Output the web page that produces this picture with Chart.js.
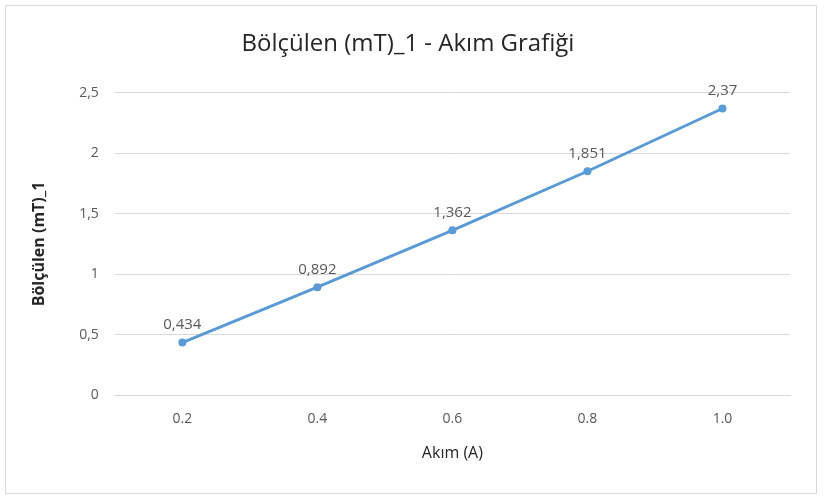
<!DOCTYPE html>
<html><head><meta charset="utf-8">
<script src="https://cdn.jsdelivr.net/npm/chart.js@4"></script>
<style>
html,body{margin:0;padding:0;background:#fff;}
#wrap{position:absolute;left:5px;top:5px;width:812px;height:489px;border:1px solid #d9d9d9;box-sizing:border-box;}
</style></head><body>
<div id="wrap"><canvas id="c"></canvas></div>
<script>
// values
const currents = ['0.2', '0.4', '0.6', '0.8', '1.0'];
const fieldValues = [0.434, 0.892, 1.362, 1.851, 2.37];
const yTicks = [0, 0.5, 1, 1.5, 2, 2.5];

const fmt = v => String(v).replace('.', ',');
const textColor = '#595959';
const font = { family: '"Open Sans", "Liberation Sans", sans-serif', size: 14 };

const pointLabels = {
    id: 'pointLabels',
    afterDatasetsDraw(chart) {
        const ctx = chart.ctx;
        const meta = chart.getDatasetMeta(0);
        ctx.save();
        ctx.fillStyle = textColor;
        ctx.font = '15px ' + font.family;
        ctx.textAlign = 'center';
        ctx.textBaseline = 'bottom';
        meta.data.forEach((p, i) => ctx.fillText(fmt(fieldValues[i]), p.x, p.y - 10));
        ctx.restore();
    }
};

new Chart(document.getElementById('c'), {
    type: 'line',
    data: {
        labels: currents,
        datasets: [{
            data: fieldValues,
            borderColor: '#5b9bd5',
            backgroundColor: '#5b9bd5',
            borderWidth: 3,
            pointRadius: 4,
            pointBorderWidth: 0,
            tension: 0,
        }],
    },
    options: {
        responsive: true,
        maintainAspectRatio: false,
        animation: false,
        layout: { padding: { left: 20, right: 26, top: 10, bottom: 26 } },
        plugins: {
            legend: { display: false },
            tooltip: { enabled: false },
            title: {
                display: true,
                text: 'Bölçülen (mT)_1 - Akım Grafiği',
                color: '#262626',
                font: { family: font.family, size: 24, weight: 'normal' },
                padding: { top: 14, bottom: 34 },
            },
        },
        scales: {
            x: {
                offset: true,
                grid: { display: false },
                border: { color: '#d9d9d9' },
                ticks: { color: textColor, font, padding: 8 },
                title: { display: true, text: 'Akım (A)', color: '#262626', font: { family: font.family, size: 16 }, padding: { top: 8 } },
            },
            y: {
                min: 0,
                max: 2.5,
                afterBuildTicks: axis => { axis.ticks = yTicks.map(v => ({ value: v })); },
                grid: { color: '#d9d9d9', drawTicks: false },
                border: { display: false },
                ticks: { color: textColor, font, padding: 16, callback: v => fmt(v) },
                title: { display: true, text: 'Bölçülen (mT)_1', color: '#262626', font: { family: font.family, size: 16, weight: 'bold' }, padding: { bottom: 14 } },
            },
        },
    },
    plugins: [pointLabels],
});
</script>
</body></html>
